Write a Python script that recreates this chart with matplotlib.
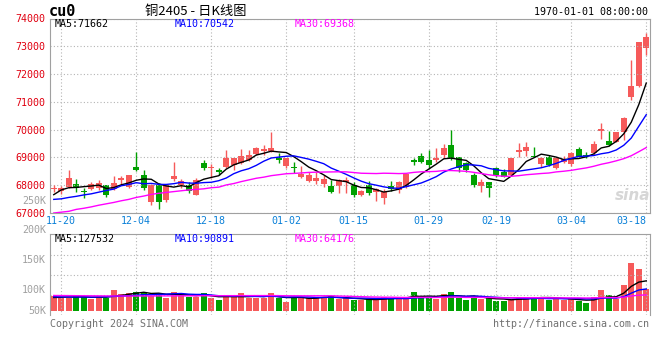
import matplotlib.pyplot as plt
import numpy as np
import pandas as pd

plt.rcParams['font.family'] = ['DejaVu Sans Mono', 'Noto Sans CJK SC']

# daily K-line, 11-17 .. 03-18 (80 trading days)
open_ = [67850, 67800, 67950, 68030, 67790, 67860, 67910, 68010, 67860, 68180,
         67950, 68650, 68370, 67410, 68010, 67470, 68220, 68010, 68010, 67650,
         68790, 68610, 68550, 68660, 68730, 68790, 68900, 69110, 69230, 69230,
         68970, 68700, 68650, 68300, 68150, 68150, 68050, 67970, 67970, 68100,
         68010, 67650, 68010, 67770, 67550, 67970, 67830, 67950, 68900, 69050,
         68900, 68890, 69080, 69440, 69020, 68790, 68370, 67980, 68100, 68610,
         68480, 68370, 69190, 69240, 69050, 68760, 69020, 68610, 68840, 68760,
         69290, 69100, 69150, 69950, 69590, 69540, 69920, 71160, 71560, 72940]
high = [68010, 67980, 68550, 68220, 67910, 68130, 68190, 68010, 68340, 68340,
        68370, 69180, 68550, 68030, 68070, 68030, 68840, 68220, 68130, 68250,
        68900, 68750, 68610, 69260, 68970, 69300, 69260, 69380, 69440, 69900,
        69150, 68970, 68820, 68700, 68480, 68480, 68370, 68190, 68220, 68300,
        68130, 67830, 68150, 67910, 67860, 68150, 68150, 68390, 68990, 69150,
        69260, 69330, 69500, 69980, 69020, 68840, 68430, 68210, 68100, 68660,
        68570, 68970, 69530, 69560, 69380, 69020, 69080, 69020, 69050, 69200,
        69360, 69200, 69600, 70240, 69960, 69900, 70460, 72500, 73160, 73480]
low = [67740, 67680, 67910, 67770, 67530, 67830, 67830, 67590, 67830, 68010,
       67910, 68510, 67830, 67290, 67140, 67410, 68150, 67910, 67710, 67650,
       68550, 68250, 68370, 68610, 68550, 68750, 68870, 69080, 69080, 69200,
       68790, 68610, 68430, 68270, 68130, 68030, 67950, 67710, 67710, 67710,
       67590, 67620, 67650, 67430, 67320, 67790, 67710, 67910, 68730, 68790,
       68630, 68840, 68970, 68900, 68480, 68460, 67950, 67770, 67590, 68300,
       68280, 68330, 69020, 69050, 69000, 68640, 68690, 68570, 68810, 68700,
       69000, 68970, 69080, 69680, 69410, 69540, 69620, 71060, 71540, 72700]
close = [67910, 67910, 68270, 67890, 67760, 68030, 68070, 67650, 68070, 68250,
         68370, 68550, 67890, 68010, 67410, 68010, 68340, 68150, 67790, 68190,
         68610, 68660, 68460, 68970, 68970, 69060, 69080, 69350, 69290, 69350,
         68920, 68970, 68610, 68390, 68370, 68270, 68220, 67770, 68190, 68190,
         67650, 67790, 67710, 67850, 67770, 67860, 68100, 68390, 68840, 68840,
         68730, 68990, 69350, 68970, 68610, 68550, 68010, 68100, 67910, 68370,
         68300, 68970, 69260, 69380, 69010, 68970, 68730, 68970, 68930, 69150,
         69020, 69050, 69480, 70010, 69440, 69900, 70420, 71560, 73160, 73340]
volume = [63800, 56500, 56500, 66700, 59500, 52300, 59500, 56500, 89300, 72300,
          77800, 80800, 77800, 63800, 77800, 56500, 80800, 66700, 60800, 60800,
          77800, 56500, 46800, 63800, 59500, 77800, 56500, 56500, 56500, 77800,
          56500, 38300, 56500, 60800, 56500, 59500, 56500, 63800, 49700, 53100,
          46800, 46800, 49700, 46800, 60800, 56500, 56500, 56500, 80800, 60800,
          60800, 52300, 72300, 80800, 56500, 46800, 63800, 49700, 56500, 42500,
          42500, 46800, 60800, 60800, 60800, 56500, 46800, 56500, 46800, 49700,
          42500, 35300, 60800, 89300, 68000, 49700, 110500, 205300, 179800, 94800]

# moving-average values at the left edge (earlier days are off the chart)
ma5_head = [67660, 67830, 67910, 67920]
ma10_head = [67490, 67510, 67560, 67600, 67650, 67690, 67750, 67810, 67860]
ma30_head = [67000, 67030, 67060, 67130, 67170, 67220, 67280, 67330, 67380, 67440,
             67490, 67560, 67610, 67670, 67710, 67740, 67770, 67800, 67830, 67850,
             67870, 67910, 67930, 68010, 68060, 68130, 68190, 68250, 68290]
vma5_head = [57400, 58200, 59500, 59500]
vma10_head = [60300, 59900, 59500, 59500, 59600, 59100, 59500, 60300, 61600]
vma30_head = [65900, 65600, 65300, 65000, 64800, 64500, 64300, 64100, 63900, 63800,
              63700, 63700, 63800, 63900, 64000, 64100, 64300, 64400, 64500, 64600,
              64700, 64800, 64900, 65000, 65100, 65200, 65300, 65400, 65400]

tick_idx = [1, 11, 21, 31, 40, 50, 59, 69, 79]
tick_lbl = ['11-20', '12-04', '12-18', '01-02', '01-15', '01-29', '02-19', '03-04', '03-18']
price_ticks = [67000, 68000, 69000, 70000, 71000, 72000, 73000, 74000]

RED = '#f65a5a'
GREEN = '#00a000'
GRID = '#b4b4b4'
W, H = 660, 360


def ma(values, n, head):
    s = pd.Series(values, dtype=float).rolling(n).mean()
    s[:len(head)] = head
    return s


def box(l, t, r, b):
    return [l / W, 1 - b / H, (r - l) / W, (b - t) / H]


def px(x, y):
    return x / W, 1 - y / H


fig = plt.figure(figsize=(6.6, 3.6), dpi=100)
ax = fig.add_axes(box(50, 18.5, 650, 213))
axv = fig.add_axes(box(50, 234, 650, 315))

o = np.array(open_)
c = np.array(close)
x = np.arange(len(c))
cols = np.where(c >= o, RED, GREEN)

# candles
ax.vlines(x, low, high, colors=cols, linewidth=1)
ax.bar(x, np.maximum(np.abs(c - o), 40), bottom=np.minimum(o, c), width=0.78,
       color=cols, linewidth=0)
ax.plot(x, ma(close, 5, ma5_head), color='black', lw=1)
ax.plot(x, ma(close, 10, ma10_head), color='#0000ff', lw=1)
ax.plot(x, ma(close, 30, ma30_head), color='#ff00ff', lw=1)

ax.set_xlim(-0.5, len(c) - 0.5)
ax.set_ylim(67000, 74000)
ax.set_yticks(price_ticks, [str(p) for p in price_ticks])
ax.set_xticks(tick_idx, tick_lbl)
ax.tick_params(axis='y', length=0, pad=3, labelsize=7.2, labelcolor='#e00010')
ax.tick_params(axis='x', length=0, pad=2, labelsize=7.2, labelcolor='#0a80d8')
ax.get_xticklabels()[-1].set_ha('right')
ax.grid(color=GRID, linestyle=(0, (1, 2)), linewidth=0.8)
for sp in ax.spines.values():
    sp.set_color('#a0a0a0')

# volume
axv.bar(x, volume, width=0.8, color=cols, linewidth=0)
axv.plot(x, ma(volume, 5, vma5_head), color='black', lw=1)
axv.plot(x, ma(volume, 10, vma10_head), color='#0000ff', lw=1)
axv.plot(x, ma(volume, 30, vma30_head), color='#ff00ff', lw=1)
axv.set_xlim(-0.5, len(c) - 0.5)
axv.set_ylim(-17000, 327000)
axv.set_yticks([68000, 153000, 238000], [])
axv.set_xticks(tick_idx, [])
axv.tick_params(length=0)
axv.grid(color=GRID, linestyle=(0, (1, 2)), linewidth=0.8)
axv.spines['bottom'].set_visible(False)
for sp in ['top', 'left', 'right']:
    axv.spines[sp].set_color('#a0a0a0')

# header texts
fig.text(*px(49, 12), 'cu0', fontsize=11, fontweight='bold', va='center')
fig.text(*px(196, 12), '铜2405 - 日K线图', fontsize=9.5, ha='center', va='center',
         family=['Noto Sans CJK SC', 'DejaVu Sans'])
fig.text(*px(648, 12), '1970-01-01 08:00:00', fontsize=7.2, ha='right', va='center')

for xx, txt, col in [(55, 'MA5:71662', 'black'), (175, 'MA10:70542', '#0000ff'),
                     (295, 'MA30:69368', '#ff00ff')]:
    fig.text(*px(xx, 24), txt, fontsize=7.2, color=col, va='center')
for xx, txt, col in [(55, 'MA5:127532', 'black'), (175, 'MA10:90891', '#0000ff'),
                     (295, 'MA30:64176', '#ff00ff')]:
    fig.text(*px(xx, 239), txt, fontsize=7.2, color=col, va='center')

for yy, txt in [(201, '250K'), (230, '200K'), (260, '150K'), (290, '100K'), (311, '50K')]:
    fig.text(*px(46, yy), txt, fontsize=7.2, color='#a0a0a0', ha='right', va='center')

fig.text(*px(50, 324), 'Copyright 2024 SINA.COM', fontsize=7.2, color='#707070', va='center')
fig.text(*px(649, 324), 'http://finance.sina.com.cn', fontsize=7.2, color='#707070',
         ha='right', va='center')
fig.text(*px(633, 195), 'sina', fontsize=11, fontstyle='italic', fontweight='bold',
         color='#d6d6d6', ha='center', va='center', family='DejaVu Sans')

fig.savefig('out.png', dpi=100)
